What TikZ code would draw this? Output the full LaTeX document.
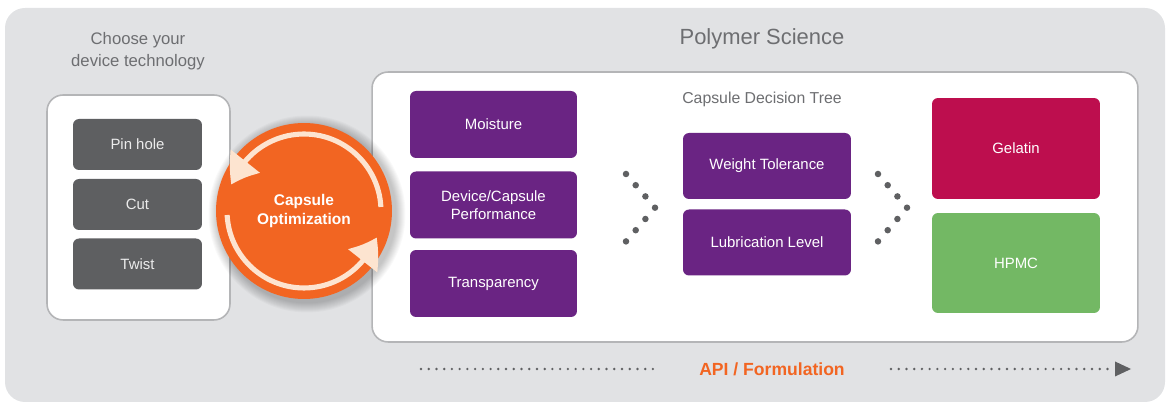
\documentclass[tikz,border=0pt]{standalone}
\usepackage{fontspec}
\setmainfont{Liberation Sans}
\usetikzlibrary{arrows.meta,bending}

\definecolor{bggray}{HTML}{E1E2E4}
\definecolor{rimgray}{HTML}{B4B5B7}
\definecolor{btngray}{HTML}{5E5F61}
\definecolor{btntext}{HTML}{ECECEC}
\definecolor{labelgray}{HTML}{6D6E71}
\definecolor{optorange}{HTML}{F26522}
\definecolor{optpeach}{HTML}{FDE4D0}
\definecolor{capspurple}{HTML}{6A2483}
\definecolor{gelred}{HTML}{BD0E4E}
\definecolor{hpmcgreen}{HTML}{73B864}
\definecolor{dotgray}{HTML}{5F6062}

\tikzset{
	panel/.style={draw=rimgray, line width=0.9pt, fill=white, rounded corners=0.32cm},
	techbox/.style={fill=btngray, rounded corners=0.12cm, minimum width=2.58cm, minimum height=1.02cm, text=btntext, font=\fontsize{8.5}{10}\selectfont},
	critbox/.style={fill=capspurple, rounded corners=0.12cm, minimum width=3.34cm, minimum height=1.34cm, text=white, align=center, font=\fontsize{8.5}{10}\selectfont},
	shellbox/.style={rounded corners=0.12cm, minimum width=3.36cm, minimum height=2.02cm, text=white, font=\fontsize{8.5}{10}\selectfont},
	greytext/.style={text=labelgray, align=center},
	cyclearc/.style={draw=optpeach, line width=2.9pt, -{Triangle[length=0.55cm, width=0.72cm, bend]}},
	dotline/.style={draw=dotgray, line width=1.5pt, line cap=round, dash pattern=on 0pt off 4.4pt}
}

\begin{document}
\begin{tikzpicture}[x=0.02cm, y=-0.02cm]
	%%%%% START %%%%%
	\useasboundingbox (0,0) rectangle (1170,404);
	\fill[bggray, rounded corners=0.4cm] (5,8) rectangle (1165,402);
	
	\node[greytext, font=\fontsize{9.5}{12.5}\selectfont] (chooselbl) at (138,51) {Choose your\\device technology};
	\node[greytext, font=\fontsize{12.5}{15}\selectfont] (polylbl) at (762,39) {Polymer Science};
	
	\node[panel, minimum width=3.66cm, minimum height=4.5cm] (devicepanel) at (138.5,207.5) {};
	\node[panel, minimum width=15.32cm, minimum height=5.4cm] (treepanel) at (755,207) {};
	\node[greytext, font=\fontsize{9}{11}\selectfont] (treelbl) at (762,99) {Capsule Decision Tree};
	
	\node[techbox] (pinhole) at (137.5,144.5) {Pin hole};
	\node[techbox] (cut) at (137.5,204.5) {Cut};
	\node[techbox] (twist) at (137.5,264) {Twist};
	
	\node[critbox] (moisture) at (493.5,124.5) {Moisture};
	\node[critbox] (performance) at (493.5,205) {Device/Capsule\\Performance};
	\node[critbox] (transparency) at (493.5,283.5) {Transparency};
	
	\node[critbox, minimum width=3.36cm, minimum height=1.32cm] (weight) at (767,166) {Weight Tolerance};
	\node[critbox, minimum width=3.36cm, minimum height=1.32cm] (lubrication) at (767,242.5) {Lubrication Level};
	
	\node[shellbox, fill=gelred] (gelatin) at (1016,148.5) {Gelatin};
	\node[shellbox, fill=hpmcgreen, minimum height=2cm] (hpmc) at (1016,263) {HPMC};
	
	% dotted chevrons
	\foreach \dx/\dy in {0/0, 9.7/11.2, 19.4/22.4, 29/33.7, 19.4/45, 9.7/56.2, 0/67.4} {
		\fill[dotgray] (626+\dx,174+\dy) circle[radius=0.065cm];
		\fill[dotgray] (878+\dx,174+\dy) circle[radius=0.065cm];
	}
	
	% soft shadow + circle
	\foreach \r in {1.97,1.95,...,1.77} {
		\fill[black, opacity=0.025] (307,214) circle[radius=\r cm];
	}
	\node[circle, fill=optorange, minimum size=3.52cm, inner sep=0pt, text=white, align=center, font=\fontsize{8.8}{11}\bfseries] (optim) at (304,211) {Capsule\\Optimization};
	\draw[cyclearc] ([shift={(3:1.54cm)}]optim.center) arc[start angle=3, end angle=160, radius=1.54cm];
	\draw[cyclearc] ([shift={(183:1.54cm)}]optim.center) arc[start angle=183, end angle=340, radius=1.54cm];
	
	% formulation axis
	\node[text=optorange, font=\fontsize{10}{12}\bfseries] (apilbl) at (772,369) {API / Formulation};
	\coordinate (apistart) at (421,369);
	\coordinate (apileft) at (654,369);
	\coordinate (apiright) at (891,369);
	\coordinate (apidots) at (1114,369);
	\coordinate (apiend) at (1131,369);
	\draw[dotline] (apistart) -- (apileft);
	\draw[dotline] (apiright) -- (apidots);
	\fill[dotgray] (apiend) -- ++(-16,-7.5) -- ++(0,15) -- cycle;
	
	%%%%% END %%%%%
\end{tikzpicture}
\end{document}
